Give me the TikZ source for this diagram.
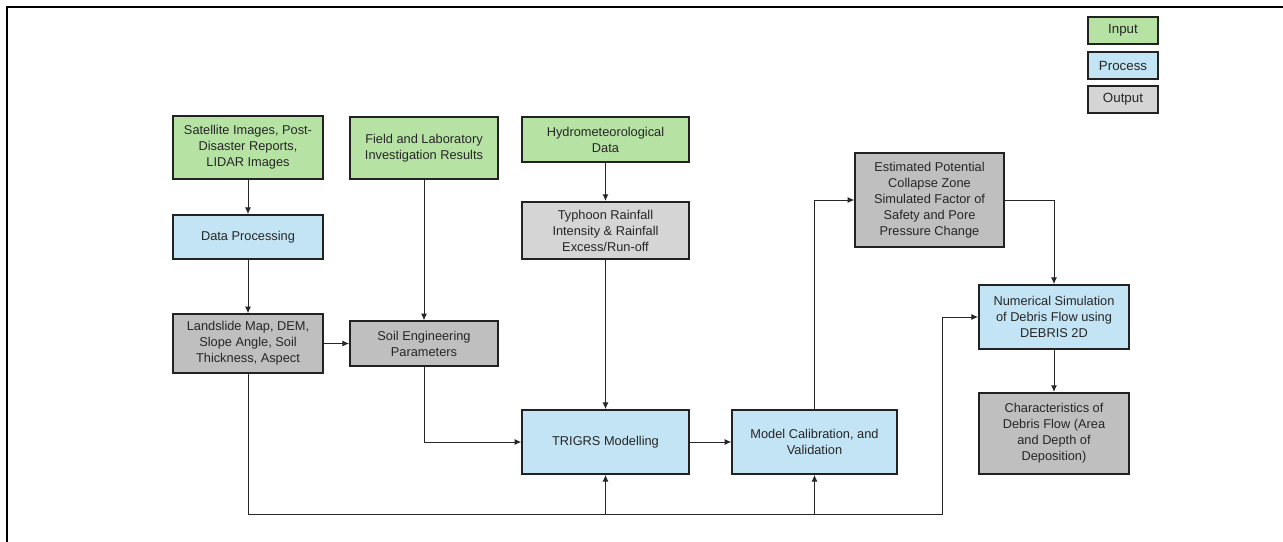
\documentclass[tikz,border=0pt]{standalone}
\usepackage{fontspec}
\setmainfont{Liberation Sans}
\usetikzlibrary{arrows.meta}

\definecolor{ingreen}{HTML}{B6E3A4}
\definecolor{procblue}{HTML}{C2E4F4}
\definecolor{outgrey}{HTML}{BFBFBF}
\definecolor{outlight}{HTML}{D5D5D5}
\definecolor{edgeblack}{HTML}{222222}

\tikzset{
  box/.style={draw=edgeblack, line width=1.3pt, inner sep=0pt, align=center,
    font=\fontsize{9.6}{12}\selectfont, text=black!85},
  inbox/.style={box, fill=ingreen},
  procbox/.style={box, fill=procblue},
  outbox/.style={box, fill=outgrey},
  outboxlight/.style={box, fill=outlight},
  keybox/.style={minimum width=52.5pt, minimum height=20pt, font=\fontsize{10}{12}\selectfont},
  arr/.style={draw=black!85, line width=0.75pt, -{Latex[length=5pt,width=4.5pt]}}
}

\begin{document}
\begin{tikzpicture}[x=0.75pt,y=0.75pt,yscale=-1]

\useasboundingbox (0,0) rectangle (1283,542);
\draw [line width=1.4pt] (7,542) -- (7,7) -- (1283,7) ;

\node [inbox, minimum width=112.5pt, minimum height=47pt] (sat) at (248,147.5) {Satellite Images, Post-\\Disaster Reports,\\LIDAR Images};
\node [inbox, minimum width=111pt, minimum height=46.5pt] (field) at (424,148) {Field and Laboratory\\Investigation Results};
\node [inbox, minimum width=125pt, minimum height=33.5pt] (hydro) at (605.5,139.5) {Hydrometeorological\\Data};

\node [procbox, minimum width=112.5pt, minimum height=33pt] (dproc) at (248,237) {Data Processing};
\node [outboxlight, minimum width=125pt, minimum height=43pt] (typh) at (605.5,230.5) {Typhoon Rainfall\\Intensity \& Rainfall\\Excess/Run-off};

\node [outbox, minimum width=112.5pt, minimum height=44pt] (land) at (248,343.5) {Landslide Map, DEM,\\Slope Angle, Soil\\Thickness, Aspect};
\node [outbox, minimum width=111pt, minimum height=33.5pt] (soil) at (424,343.5) {Soil Engineering\\Parameters};

\node [procbox, minimum width=125pt, minimum height=48pt] (trig) at (605.5,442) {TRIGRS Modelling};
\node [procbox, minimum width=123.5pt, minimum height=48pt] (model) at (814.5,442) {Model Calibration, and\\Validation};

\node [outbox, minimum width=111.5pt, minimum height=70.5pt] (est) at (929.5,200) {Estimated Potential\\Collapse Zone\\Simulated Factor of\\Safety and Pore\\Pressure Change};
\node [procbox, minimum width=112.5pt, minimum height=48pt] (num) at (1054,317) {Numerical Simulation\\of Debris Flow using\\DEBRIS 2D};
\node [outbox, minimum width=112.5pt, minimum height=61pt] (char) at (1054,433.5) {Characteristics of\\Debris Flow (Area\\and Depth of\\Deposition)};

\node [inbox, keybox] (keyin) at (1123,30.5) {Input};
\node [procbox, keybox] (keyproc) at (1123,65.5) {Process};
\node [outboxlight, keybox] (keyout) at (1123,99.5) {Output};

\draw [arr] (sat) -- (dproc) ;
\draw [arr] (dproc) -- (land) ;
\draw [arr] (land) -- (soil) ;
\draw [arr] (field) -- (soil) ;
\draw [arr] (hydro) -- (typh) ;
\draw [arr] (typh) -- (trig) ;
\draw [arr] (soil.south) |- (trig.west) ;
\draw [arr] (trig) -- (model) ;
\draw [arr] (model.north) |- (est.west) ;
\draw [arr] (est.east) -| (num.north) ;
\draw [arr] (num) -- (char) ;

\coordinate (busleft) at (248,514) ;
\coordinate (busright) at (942,514) ;
\draw [arr] (land.south) |- (busright) |- (num.west) ;
\draw [arr] (trig.south |- busleft) -- (trig.south) ;
\draw [arr] (model.south |- busleft) -- (model.south) ;

\end{tikzpicture}
\end{document}
